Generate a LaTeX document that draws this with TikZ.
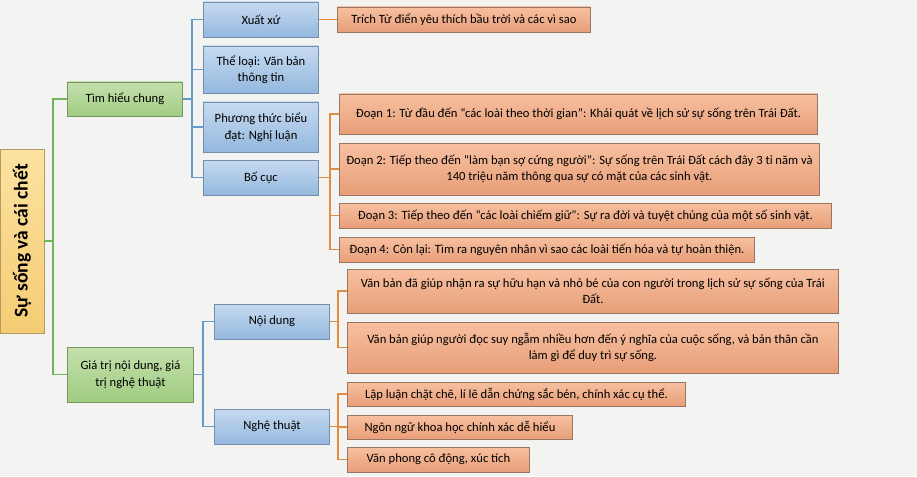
\documentclass[tikz,border=0pt]{standalone}
\usepackage{fontspec}
\setmainfont{Carlito}
\usetikzlibrary{shadows}
\definecolor{pageBg}{RGB}{243, 244, 242}
\definecolor{rootTop}{RGB}{252, 226, 160}
\definecolor{rootBot}{RGB}{245, 204, 116}
\definecolor{rootLine}{RGB}{180, 154, 100}
\definecolor{greenTop}{RGB}{196, 224, 172}
\definecolor{greenBot}{RGB}{160, 204, 130}
\definecolor{greenLine}{RGB}{118, 178, 88}
\definecolor{greenBorder}{RGB}{120, 150, 100}
\definecolor{blueTop}{RGB}{198, 218, 240}
\definecolor{blueBot}{RGB}{148, 184, 222}
\definecolor{blueLine}{RGB}{100, 155, 205}
\definecolor{blueBorder}{RGB}{118, 142, 170}
\definecolor{orangeTop}{RGB}{247, 192, 160}
\definecolor{orangeBot}{RGB}{232, 158, 120}
\definecolor{orangeLine}{RGB}{226, 140, 66}
\definecolor{orangeBorder}{RGB}{150, 118, 100}

\begin{document}
\begin{tikzpicture}[x=1pt, y=-1pt]
            \tikzstyle{base} = [line width=0.9pt, inner sep=1pt, font=\fontsize{12.6}{16.5}\selectfont, align=center, drop shadow={opacity=0.25, shadow xshift=1pt, shadow yshift=-1pt}]
            \tikzstyle{rootbox} = [base, draw=rootLine, top color=rootTop, bottom color=rootBot, minimum width=44pt, minimum height=184pt]
            \tikzstyle{greenbox} = [base, draw=greenBorder, top color=greenTop, bottom color=greenBot, anchor=west]
            \tikzstyle{bluebox} = [base, draw=blueBorder, top color=blueTop, bottom color=blueBot, anchor=west, minimum width=115pt]
            \tikzstyle{orangebox} = [base, draw=orangeBorder, top color=orangeTop, bottom color=orangeBot, anchor=west]
            \tikzstyle{gline} = [line width=1.6pt, greenLine]
            \tikzstyle{bline} = [line width=1.6pt, blueLine]
            \tikzstyle{oline} = [line width=1.6pt, orangeLine]

            \fill[pageBg] (0,0) rectangle (917,476);
            \useasboundingbox (0,0) rectangle (917,476);

            % Root
            \node[rootbox] (root) at (22,241) {};
            \node[rotate=90, font=\fontsize{19.5}{22}\selectfont\bfseries] (rootText) at (root.center) {Sự sống và cái chết};

            % Level 1
            \node[greenbox, minimum width=115pt, minimum height=34pt] (tim) at (67,99) {Tìm hiểu chung};
            \node[greenbox, minimum width=126pt, minimum height=55pt] (gia) at (67,374.5) {Giá trị nội dung, giá\\trị nghệ thuật};
            \draw[gline] (tim.west) -- ++(-14,0) |- (root.east);
            \draw[gline] (gia.west) -- ++(-14,0) |- (root.east);

            % Tìm hiểu chung
            \node[bluebox, minimum height=35pt] (xuat) at (203,19.5) {Xuất xứ};
            \node[bluebox, minimum height=47pt] (theloai) at (203,69.5) {Thể loại: Văn bản\\thông tin};
            \node[bluebox, minimum height=50pt] (phuongthuc) at (203,127) {Phương thức biểu\\đạt: Nghị luận};
            \node[bluebox, minimum height=35pt] (bocuc) at (203,177.5) {Bố cục};
            \foreach \n in {xuat, theloai, phuongthuc, bocuc}
                \draw[bline] (\n.west) -- ++(-11,0) |- (tim.east);

            \node[orangebox, minimum width=253pt, minimum height=25pt] (trich) at (337,19.5) {Trích Từ điển yêu thích bầu trời và các vì sao};
            \draw[oline] (xuat.east) -- (trich.west);

            % Bố cục
            \node[orangebox, minimum width=478pt, minimum height=40pt] (doan1) at (339,114) {Đoạn 1: Từ đầu đến “các loài theo thời gian”: Khái quát về lịch sử sự sống trên Trái Đất.};
            \node[orangebox, minimum width=480pt, minimum height=52pt] (doan2) at (339,169) {Đoạn 2: Tiếp theo đến “làm bạn sợ cứng người”: Sự sống trên Trái Đất cách đây 3 tỉ năm và\\140 triệu năm thông qua sự có mặt của các sinh vật.};
            \node[orangebox, minimum width=492pt, minimum height=25pt] (doan3) at (339,215.5) {Đoạn 3: Tiếp theo đến “các loài chiếm giữ”: Sự ra đời và tuyệt chủng của một số sinh vật.};
            \node[orangebox, minimum width=415pt, minimum height=25pt] (doan4) at (339,249.5) {Đoạn 4: Còn lại: Tìm ra nguyên nhân vì sao các loài tiến hóa và tự hoàn thiện.};
            \foreach \n in {doan1, doan2, doan3, doan4}
                \draw[oline] (\n.west) -- ++(-9,0) |- (bocuc.east);

            % Giá trị nội dung, giá trị nghệ thuật
            \node[bluebox, minimum height=35pt] (noidung) at (214,321.5) {Nội dung};
            \node[bluebox, minimum height=35pt] (nghethuat) at (214,426.5) {Nghệ thuật};
            \foreach \n in {noidung, nghethuat}
                \draw[bline] (\n.west) -- ++(-11,0) |- (gia.east);

            \node[orangebox, minimum width=491pt, minimum height=44pt] (nd1) at (347,291) {Văn bản đã giúp nhận ra sự hữu hạn và nhỏ bé của con người trong lịch sử sự sống của Trái\\Đất.};
            \node[orangebox, minimum width=491pt, minimum height=51pt] (nd2) at (347,347.5) {Văn bản giúp người đọc suy ngẫm nhiều hơn đến ý nghĩa của cuộc sống, và bản thân cần\\làm gì để duy trì sự sống.};
            \foreach \n in {nd1, nd2}
                \draw[oline] (\n.west) -- ++(-9,0) |- (noidung.east);

            \node[orangebox, minimum width=338pt, minimum height=24pt] (nt1) at (347,394) {Lập luận chặt chẽ, lí lẽ dẫn chứng sắc bén, chính xác cụ thể.};
            \node[orangebox, minimum width=225pt, minimum height=24pt] (nt2) at (347,427) {Ngôn ngữ khoa học chính xác dễ hiểu};
            \node[orangebox, minimum width=182pt, minimum height=25pt] (nt3) at (347,459.5) {Văn phong cô động, xúc tích};
            \foreach \n in {nt1, nt2, nt3}
                \draw[oline] (\n.west) -- ++(-9,0) |- (nghethuat.east);
\end{tikzpicture}
\end{document}
